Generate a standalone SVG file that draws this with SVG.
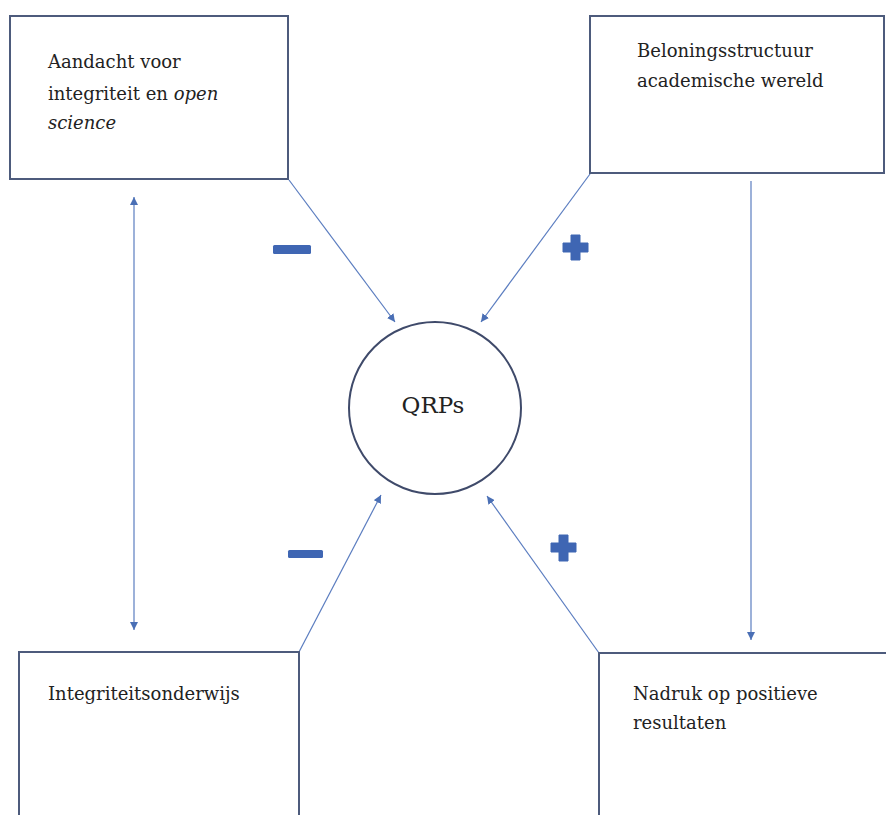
<svg xmlns="http://www.w3.org/2000/svg" width="886" height="815" viewBox="0 0 886 815">
<style>
.box{fill:#ffffff;stroke:#4d5b7c;stroke-width:2}
.t{font-family:"DejaVu Serif","Liberation Serif",serif;font-size:18px;fill:#222}
.q{font-size:23px}
.c{fill:none;stroke:#5b7dc0;stroke-width:1.2}
.sign{fill:#3f66b3}
</style>
<defs>
<marker id="ah" viewBox="0 0 10 10" refX="10" refY="5" markerWidth="8" markerHeight="8" markerUnits="userSpaceOnUse" orient="auto-start-reverse">
<path d="M0,0 L10,5 L0,10 z" fill="#4a6fb5"/>
</marker>
</defs>
<rect width="886" height="815" fill="#ffffff"/>
<g id="connectors">
<line class="c" x1="134" y1="197" x2="134" y2="630" marker-start="url(#ah)" marker-end="url(#ah)"/>
<line class="c" x1="289" y1="180" x2="395" y2="322" marker-end="url(#ah)"/>
<line class="c" x1="590" y1="174" x2="481" y2="322" marker-end="url(#ah)"/>
<line class="c" x1="299" y1="652" x2="381" y2="495" marker-end="url(#ah)"/>
<line class="c" x1="599" y1="653" x2="487" y2="496" marker-end="url(#ah)"/>
<line class="c" x1="751" y1="181" x2="751" y2="640" marker-end="url(#ah)"/>
</g>
<g id="signs">
<rect class="sign" x="273" y="245" width="38" height="9" rx="1.5"/>
<path class="sign" d="M571,235 h9 v8 h8 v9 h-8 v8 h-9 v-8 h-8 v-9 h8 z" stroke="#3f66b3" stroke-width="1" stroke-linejoin="round"/>
<rect class="sign" x="288" y="550" width="35" height="8" rx="1.5"/>
<path class="sign" d="M559,535 h9 v8 h8 v9 h-8 v9 h-9 v-9 h-8 v-9 h8 z" stroke="#3f66b3" stroke-width="1" stroke-linejoin="round"/>
</g>
<g id="node-aandacht">
<rect class="box" x="10" y="16" width="278" height="163"/>
<text class="t" x="48" y="68">Aandacht voor</text>
<text class="t" x="48" y="100">integriteit en <tspan font-style="italic">open</tspan></text>
<text class="t" x="48" y="129" font-style="italic">science</text>
</g>
<g id="node-beloning">
<rect class="box" x="590" y="16" width="294" height="157"/>
<text class="t" x="637" y="57">Beloningsstructuur</text>
<text class="t" x="637" y="87">academische wereld</text>
</g>
<g id="node-qrps">
<circle cx="435" cy="408" r="86" fill="#ffffff" stroke="#3f4a6a" stroke-width="2"/>
<text class="t q" x="433" y="413" text-anchor="middle">QRPs</text>
</g>
<g id="node-integriteitsonderwijs">
<rect class="box" x="19" y="652" width="280" height="175"/>
<text class="t" x="48" y="700">Integriteitsonderwijs</text>
</g>
<g id="node-nadruk">
<rect class="box" x="599" y="653" width="295" height="175"/>
<text class="t" x="633" y="700">Nadruk op positieve</text>
<text class="t" x="633" y="729">resultaten</text>
</g>
</svg>
